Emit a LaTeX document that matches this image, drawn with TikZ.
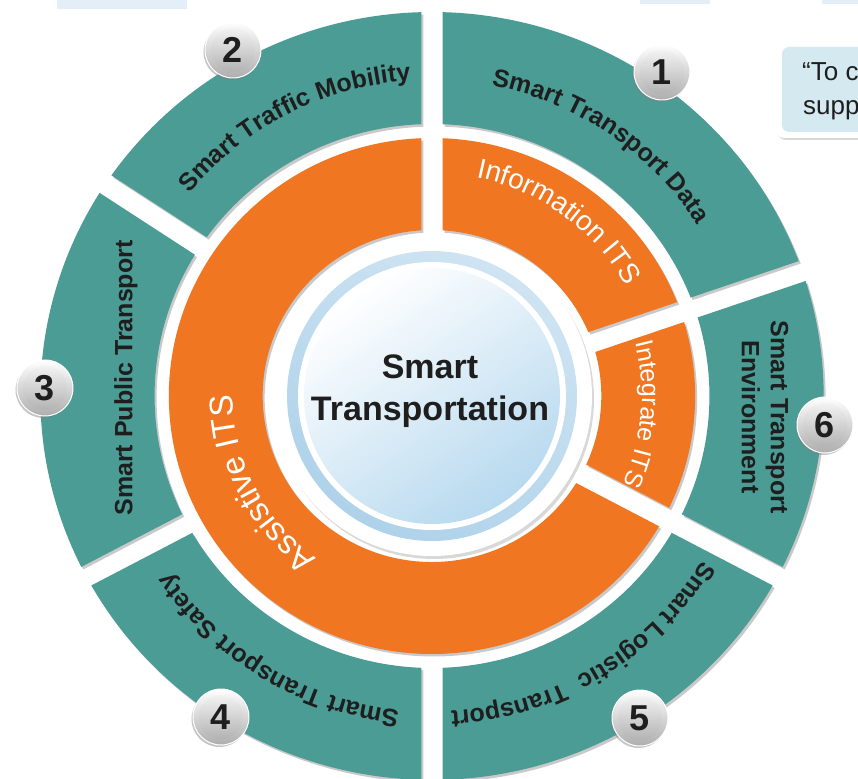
\documentclass[tikz,border=0pt]{standalone}
\usepackage{fontspec}
\setmainfont{Liberation Sans}
\usetikzlibrary{decorations.text,shadows}

\definecolor{tealseg}{HTML}{4A9C95}
\definecolor{orangeseg}{HTML}{F07622}
\definecolor{ringblue}{HTML}{AED2EA}
\definecolor{discblue}{HTML}{B7D9EF}
\definecolor{calloutbg}{HTML}{D5E9F0}
\definecolor{txtdark}{HTML}{1E1E1E}
\definecolor{paleblue}{HTML}{E4EEF6}

\newcommand{\segfont}{\fontsize{25}{29}\selectfont\bfseries}
\newcommand{\infofont}{\fontsize{28}{32}\selectfont}
\newcommand{\itsfont}{\fontsize{25}{30}\selectfont}
\newcommand{\bigitsfont}{\fontsize{33}{38}\selectfont}

% annular sector with parallel gaps of half width 10.5
\newcommand{\ringseg}[5]{%
  \pgfmathsetmacro{\aOs}{#1+asin(10.5/#4)}%
  \pgfmathsetmacro{\aOe}{#2-asin(10.5/#4)}%
  \pgfmathsetmacro{\aIs}{#1+asin(10.5/#3)}%
  \pgfmathsetmacro{\aIe}{#2-asin(10.5/#3)}%
  \path[#5] (\aOs:#4) arc[start angle=\aOs, end angle=\aOe, radius=#4]
     -- (\aIe:#3) arc[start angle=\aIe, end angle=\aIs, radius=#3] -- cycle;
}

\begin{document}
\begin{tikzpicture}[x=1pt,y=1pt,
  segshadow/.style={drop shadow={shadow xshift=2pt,shadow yshift=-2.5pt,opacity=.35,fill=black!60}},
  tealpart/.style={fill=tealseg,segshadow},
  orangepart/.style={fill=orangeseg,segshadow},
  btnouter/.style={circle,minimum size=56pt,inner sep=0pt,top color=white,bottom color=black!32,
     draw=white,line width=1pt,drop shadow={shadow xshift=-1.5pt,shadow yshift=-2pt,opacity=.45}},
  btninner/.style={circle,minimum size=44pt,inner sep=0pt,top color=black!5,bottom color=black!30,
     font=\fontsize{36}{36}\selectfont\bfseries,text=txtdark},
  segtext/.style={font=\segfont,text=txtdark},
  centertext/.style={font=\fontsize{34}{40}\selectfont\bfseries,text=txtdark,anchor=base}
]
\useasboundingbox (-432,-382) rectangle (426,396);
\clip (-432,-382) rectangle (426,396);
\fill[white] (-432,-382) rectangle (426,396);

% faint cropped shapes at the top edge
\fill[paleblue] (-375,387) rectangle (-245,396);
\fill[paleblue] (208,392) rectangle (278,396);
\fill[paleblue] (390,392) rectangle (426,396);

% rings
\begin{scope}[xscale=1.02]
  \ringseg{19}{90}{272}{384}{tealpart}
  \ringseg{90}{146.5}{272}{384}{tealpart}
  \ringseg{146.5}{208}{272}{384}{tealpart}
  \ringseg{208}{270}{272}{384}{tealpart}
  \ringseg{270}{332}{272}{384}{tealpart}
  \ringseg{-28}{19}{272}{384}{tealpart}
  \ringseg{19}{90}{166}{258}{orangepart}
  \ringseg{-28}{19}{166}{258}{orangepart}
  \ringseg{90}{332}{166}{258}{orangepart}
\end{scope}

% central disc
\fill[white,drop shadow={shadow xshift=2pt,shadow yshift=-3pt,opacity=.3}] (0,0) circle[radius=160];
\shade[top color=ringblue!60,bottom color=ringblue,shading angle=-30] (0,0) circle[radius=145];
\fill[white] (0,0) circle[radius=134];
\shade[top color=white,bottom color=discblue,shading angle=35] (0,0) circle[radius=128];
\node[centertext] (ctop) at (-2,17) {Smart};
\node[centertext] (cbot) at (-2,-24) {Transportation};

% teal texts
\path[decorate,decoration={text along path,text align=center,
  text={|\segfont\color{txtdark}|Smart Traffic Mobility}}]
  (177:316) arc[start angle=177,end angle=57,radius=316];
\path[decorate,decoration={text along path,text align=center,
  text={|\segfont\color{txtdark}|Smart Transport Data}}]
  (116:316) arc[start angle=116,end angle=-4,radius=316];
\path[decorate,decoration={text along path,text align=center,
  text={|\segfont\color{txtdark}|Smart Transport Safety}}]
  (299:316) arc[start angle=299,end angle=179,radius=316];
\path[decorate,decoration={text along path,text align=center,
  text={|\segfont\color{txtdark}|Smart Logistic}}]
  (13:316) arc[start angle=13,end angle=-107,radius=316];
\path[decorate,decoration={text along path,text align=center,
  text={|\segfont\color{txtdark}|Transport}}]
  (-16:316) arc[start angle=-16,end angle=-136,radius=316];
\node[segtext,rotate=90] (spt) at (-306,18) {Smart Public Transport};
\node[segtext,rotate=-90,align=center] (ste) at (333,-21) {Smart Transport\\Environment};

% orange texts
\path[decorate,decoration={text along path,text align=center,
  text={|\infofont\color{white}|Information ITS}}]
  (114:223) arc[start angle=114,end angle=-6,radius=223];
\path[decorate,decoration={text along path,text align=center,
  text={|\itsfont\color{white}|Integrate ITS}}]
  (55:210) arc[start angle=55,end angle=-65,radius=210];
\path[decorate,decoration={text along path,text align=center,
  text={|\bigitsfont\color{white}|Assistive ITS}}]
  (267:199) arc[start angle=267,end angle=147,radius=199];

% number buttons
\node[btnouter] (b1) at (230,324) {};
\node[btninner] (b1n) at (b1) {1};
\node[btnouter] (b2) at (-199,346) {};
\node[btninner] (b2n) at (b2) {2};
\node[btnouter] (b3) at (-387,8) {};
\node[btninner] (b3n) at (b3) {3};
\node[btnouter] (b4) at (-211,-321) {};
\node[btninner] (b4n) at (b4) {4};
\node[btnouter] (b5) at (208,-322) {};
\node[btninner] (b5n) at (b5) {5};
\node[btnouter] (b6) at (393,-29) {};
\node[btninner] (b6n) at (b6) {6};

% callout box (cropped)
\fill[white,rounded corners=9pt,drop shadow={shadow xshift=2pt,shadow yshift=-2pt,opacity=.3}]
  (343,258) rectangle (480,358);
\fill[calloutbg,rounded corners=7pt] (350,264) rectangle (480,349);
\node[anchor=base west,inner sep=0pt,font=\fontsize{26}{30}\selectfont,text=txtdark] (q1) at (370,315) {“To c};
\node[anchor=base west,inner sep=0pt,font=\fontsize{26}{30}\selectfont,text=txtdark] (q2) at (371,281) {supp};
\end{tikzpicture}
\end{document}
